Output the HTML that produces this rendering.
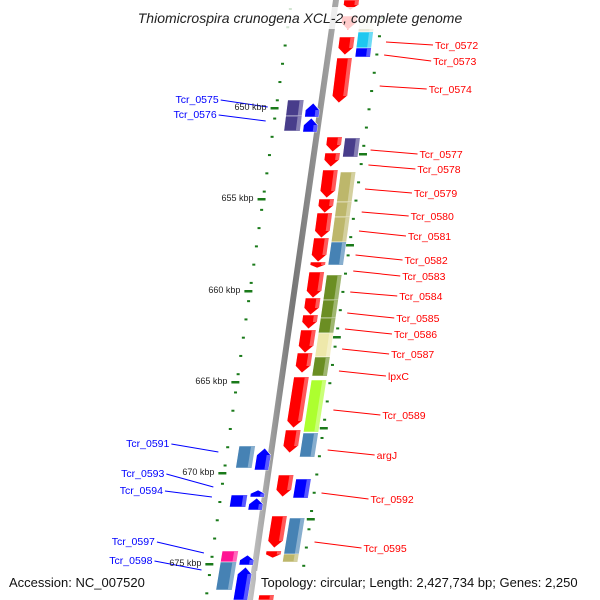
<!DOCTYPE html>
<html><head><meta charset="utf-8"><style>
body{margin:0;background:#fff;}
svg{display:block;font-family:"Liberation Sans",sans-serif;}
</style></head><body>
<svg id="map" width="600" height="600" viewBox="0 0 600 600">
<defs>
<linearGradient id="bb" x1="0" x2="1"><stop offset="0" stop-color="#c8c8c8"/><stop offset="0.5" stop-color="#777"/><stop offset="1" stop-color="#aaa"/></linearGradient>
</defs>
<g id="dots"></g>
<polygon points="333,0 339,0 253,600 247,600" fill="url(#bb)"/>
<g id="genes"></g>
<g id="lines"></g>
<g id="labels"></g>
<rect x="118" y="7" width="366" height="22" fill="#fff" opacity="0.8"/>
<text x="300" y="23" text-anchor="middle" font-size="14" font-style="italic" fill="#222">Thiomicrospira crunogena XCL-2, complete genome</text>
<rect x="4" y="571" width="140" height="20" fill="#fff" opacity="0.8"/>
<rect x="256" y="571" width="340" height="20" fill="#fff" opacity="0.8"/>
<text x="9" y="587" font-size="13" fill="#111">Accession: NC_007520</text>
<text x="261" y="587" font-size="13" fill="#111">Topology: circular; Length: 2,427,734 bp; Genes: 2,250</text>
</svg>
<script>
// gene data: start y, end y, lane, colour, shape
const geneStart=[0,16,37,58,137,153,170,199,213,238,262,272,298,315,330,353,377,430,475,516,551, 18,32,48,138,172,202,217,242,275,300,318,333,357,380,433,479,518,554, 100,116,446,495,551,562, 103,118,448,490,498,555,567,595];
const geneEnd=  [10,30,55,103,152,167,198,213,238,262,268,298,315,329,353,373,428,453,497,548,558, 32,48,57,157,202,217,242,265,300,318,333,357,376,432,457,498,555,562, 116,131,468,507,562,590, 117,132,470,497,510,565,600,600];
const geneLane= ['R','R','R','R','R','R','R','R','R','R','R','R','R','R','R','R','R','R','R','R','R', 'C','C','C','C','C','C','C','C','C','C','C','C','C','C','C','C','C','C', 'LC','LC','LC','LC','LC','LC', 'L','L','L','L','L','L','L','R'];
const geneColor=['#ff0000','#ff0000','#ff0000','#ff0000','#ff0000','#ff0000','#ff0000','#ff0000','#ff0000','#ff0000','#ff0000','#ff0000','#ff0000','#ff0000','#ff0000','#ff0000','#ff0000','#ff0000','#ff0000','#ff0000','#ff0000',
 '#e6e8d8','#1ec8f0','#0000ff','#483d8b','#bdb76b','#bdb76b','#bdb76b','#4682b4','#6b8e23','#6b8e23','#6b8e23','#eee8aa','#6b8e23','#adff2f','#4682b4','#0000ff','#4682b4','#bdb76b',
 '#483d8b','#483d8b','#4682b4','#0000ff','#ff1493','#4682b4',
 '#0000ff','#0000ff','#0000ff','#0000ff','#0000ff','#0000ff','#0000ff','#ff0000'];
const geneArrow=[1,1,1,1,1,1,1,1,1,1,1,1,1,1,1,1,1,1,1,1,1, 0,0,0,0,0,0,0,0,0,0,0,0,0,0,0,0,0,0, 0,0,0,0,0,0, 1,1,1,1,1,1,1,0];
// labels
const rightLabels=['Tcr_0572','Tcr_0573','Tcr_0574','Tcr_0577','Tcr_0578','Tcr_0579','Tcr_0580','Tcr_0581','Tcr_0582','Tcr_0583','Tcr_0584','Tcr_0585','Tcr_0586','Tcr_0587','lpxC','Tcr_0589','argJ','Tcr_0592','Tcr_0595'];
const rightLabelY=[45,61,89,154,169,193,216,236,260,276,296,318,334,354,376,415,455,499,548];
const rightAnchorY=[42,55,86,150,165,189,212,231,255,271,292,313,329,349,371,410,450,493,542];
const leftLabels=['Tcr_0575','Tcr_0576','Tcr_0591','Tcr_0593','Tcr_0594','Tcr_0597','Tcr_0598'];
const leftLabelY=[99,114,443,473,490,541,560];
const leftAnchorY=[107,121,452,487,497,553,570];
const kbpLabels=['650 kbp','655 kbp','660 kbp','665 kbp','670 kbp','675 kbp'];
const kbpY=[108,199,291,382,473,564];

const NS='http://www.w3.org/2000/svg';
const cx=y=>336-0.143*y;
const gx=y=>cx(y)+1+4*Math.sin(Math.PI*y/600);
const lanes={R:[7,22],C:[25,40],L:[-18,-4],LC:[-37,-21]};
function mk(tag,attrs,parent){const e=document.createElementNS(NS,tag);for(const k in attrs)e.setAttribute(k,attrs[k]);parent.appendChild(e);return e;}
function shade(c,f){const n=parseInt(c.slice(1),16);let r=n>>16,g=(n>>8)&255,b=n&255;r=Math.round(r+(255-r)*f);g=Math.round(g+(255-g)*f);b=Math.round(b+(255-b)*f);return `rgb(${r},${g},${b})`;}
const G=document.getElementById('genes');
for(let i=0;i<geneStart.length;i++){
  const y0=geneStart[i],y1=geneEnd[i],ln=geneLane[i],[a,b]=lanes[ln];
  const down=(ln==='R');
  const P=(off,y)=>(gx(y)+off).toFixed(1)+','+y;
  let pts;
  const h=Math.min(7,(y1-y0)*0.5);
  if(geneArrow[i]&&down){
    const m=(a+b)/2;
    pts=[P(a,y0),P(b,y0),P(b,y1-h),P(m,y1),P(a,y1-h)];
  }else if(geneArrow[i]){
    const m=(a+b)/2;
    pts=[P(m,y0),P(b,y0+h),P(b,y1),P(a,y1),P(a,y0+h)];
  }else{
    pts=[P(a,y0),P(b,y0),P(b,y1),P(a,y1)];
  }
  const g=mk('polygon',{points:pts.join(' '),fill:geneColor[i],stroke:'#fff','stroke-width':'0.6'},G);
  
  
  const t0=y0+(geneArrow[i]&&!down?h:0), t1=y1-(geneArrow[i]&&down?h:0);
  const hl=[P(b-4,t0),P(b,t0),P(b,t1),P(b-4,t1)];
  const s=mk('polygon',{points:hl.join(' '),fill:shade(geneColor[i],0.35)},G);
  
  
}
// dotted scale lines
const D=document.getElementById('dots');
for(let y=8;y<600;y+=18.26){
  const l=mk('rect',{x:cx(y)-46,y:y,width:3,height:2,fill:'#1a7a1a'},D);
  
  
  const r=mk('rect',{x:cx(y+9)+47,y:y+9,width:3,height:2,fill:'#1a7a1a'},D);
  
  
}
const L=document.getElementById('labels'),LN=document.getElementById('lines');
for(let i=0;i<kbpY.length;i++){
  const y=kbpY[i];
  const t=mk('rect',{x:cx(y)-50,y:y-1,width:8,height:2.5,fill:'#1a7a1a'},D);
  
  
  const r=mk('rect',{x:cx(y+46)+45,y:y+45,width:8,height:2.5,fill:'#1a7a1a'},D);
  
  
  const tx=mk('text',{x:cx(y)-54,y:y+2,'text-anchor':'end','font-size':'9',fill:'#222'},L);
  tx.textContent=kbpLabels[i];
  
  
}
for(let i=0;i<rightLabels.length;i++){
  const ya=rightAnchorY[i],yl=rightLabelY[i];
  const x1=cx(ya)+56,x2=x1+47;
  const l=mk('line',{x1:x1,y1:ya,x2:x2,y2:yl,stroke:'#ff0000','stroke-width':'1'},LN);
  
  
  const t=mk('text',{x:x2+2,y:yl+4,'font-size':'10.5',fill:'#ff0000'},L);
  t.textContent=rightLabels[i];
  
  
}
for(let i=0;i<leftLabels.length;i++){
  const ya=leftAnchorY[i],yl=leftLabelY[i];
  const x2=cx(ya)-53,x1=x2-47;
  const l=mk('line',{x1:x1,y1:yl+1,x2:x2,y2:ya,stroke:'#0000ff','stroke-width':'1'},LN);
  
  
  const t=mk('text',{x:x1-2,y:yl+4,'text-anchor':'end','font-size':'10.5',fill:'#0000ff'},L);
  t.textContent=leftLabels[i];
  
  
}
</script>
</body></html>
